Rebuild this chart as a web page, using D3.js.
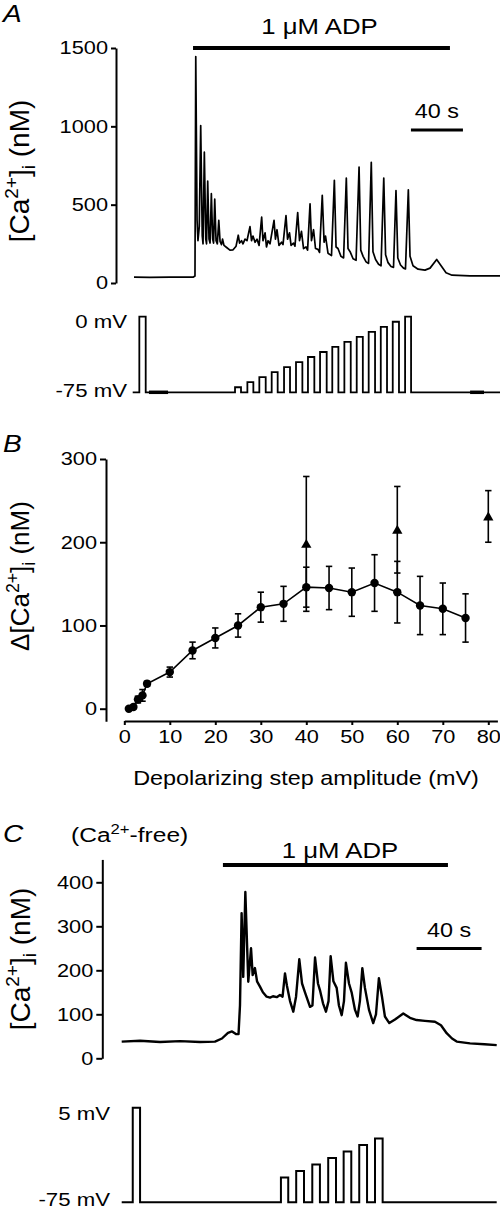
<!DOCTYPE html>
<html><head><meta charset="utf-8">
<script src="https://cdn.jsdelivr.net/npm/d3@7"></script>
<style>
body{margin:0;background:#fff}
svg{display:block}
text{font-family:"Liberation Sans",Arial,Helvetica,sans-serif;fill:#000}
</style>
</head><body>
<svg id="fig" width="500" height="1212"></svg>
<script>
// ---------------- DATA ----------------
// Panel A: [Ca2+]i trace (time in s, value in nM)
const timeA = [0,12.3,27.7,45.4,46.9,47.5,48.5,49.2,50.2,51.3,52.5,53.1,54.1,55.2,55.8,56.7,57.7,58.5,59.5,60.5,61.2,62.1,63.1,64.1,65.2,66.2,67.3,68.1,69.2,71.5,73.8,76.2,78.5,80.2,81.2,82.7,83.8,85.4,86.9,89.2,90.4,91.5,93.1,94.6,96.2,98.2,99.2,100.8,101.9,103.1,104.6,107.7,108.8,110,111.5,113.5,114.6,116.9,118.1,119.6,120.8,122.7,123.8,125.9,127.3,128.8,130.4,132.3,133.5,135.4,136.5,138.1,139.6,141.5,142.7,144.8,146.2,147.3,149.2,151.9,154.1,155.4,156.9,159.2,161.2,163.3,164.6,166.2,168.5,170.8,173.1,174.4,176.2,178.5,180.4,182.5,183.8,185.8,188.1,190,192.1,193.5,195.4,197.7,199.6,201.5,202.9,205,207.3,208.8,211,212.3,214.6,218.5,223.8,227.7,232.8,236.2,240,244.6,258.5,281.5];
const caA = [37,36,38,37,45,1445,400,270,360,1005,300,250,835,280,250,650,280,255,570,280,255,535,270,250,400,265,245,280,240,225,210,212,235,305,255,270,250,280,270,360,270,300,260,280,240,420,270,320,230,270,250,400,280,340,240,260,245,430,280,320,240,255,235,450,270,330,220,230,210,505,270,340,220,215,195,560,260,300,190,175,655,230,220,170,160,670,220,200,155,145,740,210,170,135,125,770,200,150,120,110,670,180,130,105,100,590,160,115,95,90,595,170,110,88,82,95,150,110,65,50,45,45];
const adpA = [45.4, 243];       // 1 µM ADP application (s)
const scaleBarA = [213, 253];   // 40 s

// Panel A: voltage protocol
const stepStartA = [4.1,77.7,87.2,96.4,105.9,115.4,124.6,133.8,143.1,152.5,161.8,171.3,180.5,189.8,199,208.5];
const stepEndA   = [9.0,82.3,91.8,101.3,110.5,120,129.5,138.7,148.2,157.2,166.7,176,185.4,194.6,203.8,213.1];
const stepMvA    = [0,-70,-65,-60,-55,-50,-45,-40,-35,-30,-25,-20,-15,-10,-5,0];
const noiseA = [[11.5,26.2],[258.5,269.2]];
const voltTicksA = [0, -75];

// Panel B
const ampCircle = [1,2,3,4,5,10,15,20,25,30,35,40,45,50,55,60,65,70,75];
const dCaCircle = [0,2,11,16,30,44,70,85,100,122,126,146,145,140,151,140,124,120,109];
const semCircle = [1,2,4,7,3,6,10,12,14,18,21,24,26,29,34,37,35,31,29];
const ampTri = [40,60,80];
const dCaTri = [198,215,231];
const semTri = [81,52,31];
const xTicksB = [0,10,20,30,40,50,60,70,80];
const yTicksB = [0,100,200,300];

// Panel C: [Ca2+]i trace, Ca2+-free
const timeC = [0,11.3,23.6,35.9,48.2,57.4,61.7,65.4,67.9,70.3,71.9,72.8,73.8,74.8,76.1,77.9,79.6,80.6,82,83.3,85.1,86.9,89.2,91.3,93.1,95.4,97.4,99,100.5,101.7,103.6,105.6,107.3,109.3,111,112.8,115.9,117.4,119,120.8,122,123.9,125.7,127.3,128.6,130.3,132.3,133.7,135.4,136.8,138,139.9,141.5,143.6,145.2,146.6,148.1,149.7,152.2,154.8,156.5,158.3,160.2,162,164.7,168.2,173.3,177.4,181.5,186.6,192.8,196.5,200,203.3,206.2,214.4,223.3,230.8];
const caC = [38,40,37,39,37,38,45,58,61,55,55,120,330,185,378,174,250,189,205,175,163,150,140,138,141,139,144,140,193,165,130,106,140,225,170,150,117,120,229,170,155,125,106,130,232,175,160,120,98,130,217,170,150,110,95,130,205,160,110,80,100,182,140,95,80,88,102,92,87,85,83,75,57,45,38,34,32,30];
const adpC = [62.3, 200.8];
const scaleBarC = [181.5, 221.5];
const yTicksA = [0,500,1000,1500];
const yTicksC = [0,100,200,300,400];

// Panel C: voltage protocol
const stepStartC = [6.8,98,107.4,117.3,127.1,136.6,146.2,155.9];
const stepEndC   = [11.3,102.5,112.2,122,131.9,141.3,151,160.6];
const stepMvC    = [5,-54,-48.5,-43,-37.5,-32,-26.5,-21];

// ---------------- DRAWING ----------------
const SX = 1.17;
const svg = d3.select("#fig");

function rich(sel, parts, size) {
  let off = 0;
  parts.forEach(p => {
    const s = sel.append("tspan");
    let target = 0, txt = p;
    if (typeof p === "object") {
      txt = p.t;
      if (p.sup) target = -0.4 * size;
      if (p.sub) target = 0.22 * size;
      s.style("font-size", (0.68 * size) + "px");
    }
    s.attr("dy", target - off);
    off = target;
    s.text(txt);
  });
}
function label(x, y, parts, size, anchor, italic) {
  const t = svg.append("text")
    .attr("transform", `translate(${x},${y}) scale(${SX},1)`)
    .attr("text-anchor", anchor || "start")
    .style("font-size", size + "px");
  if (italic) t.style("font-style", "italic");
  rich(t, Array.isArray(parts) ? parts : [parts], size);
  return t;
}
function ylabel(x, y, parts, size) {
  const t = svg.append("text")
    .attr("transform", `translate(${x},${y}) rotate(-90)`)
    .attr("text-anchor", "middle")
    .style("font-size", size + "px");
  rich(t, parts, size);
}
function styleAxis(g, pad) {
  g.selectAll("path.domain").attr("stroke", "#000").attr("stroke-width", 2);
  g.selectAll(".tick line").attr("stroke", "#000").attr("stroke-width", 2);
  g.selectAll(".tick text").style("font-size", "18.6px")
    .attr("font-family", null)
    .each(function () {
      const x = +this.getAttribute("x") || 0;
      this.setAttribute("x", x / SX);
      this.setAttribute("transform", `scale(${SX},1)`);
    });
  g.attr("font-family", null).attr("font-size", null);
}
function stepPoints(t0, t1, starts, ends, levels, base) {
  const pts = [[t0, base]];
  starts.forEach((s, i) => {
    pts.push([s, base], [s, levels[i]], [ends[i], levels[i]], [ends[i], base]);
  });
  pts.push([t1, base]);
  return pts;
}

// ===== Panel A =====
const xA = d3.scaleLinear().domain([0, 281.5]).range([134, 500]);
const yA = d3.scaleLinear().domain([0, 1500]).range([283, 48]);
const vA = d3.scaleLinear().domain([-75, 0]).range([392.3, 316.7]);

label(3, 22, "A", 24, "start", true);
const gAy = svg.append("g").attr("transform", "translate(116,0)")
  .call(d3.axisLeft(yA).tickValues(yTicksA).tickSize(5).tickSizeOuter(0).tickPadding(3).tickFormat(d3.format("d")));
styleAxis(gAy);
ylabel(29, 171, ["[Ca", {t: "2+", sup: true}, "]", {t: "i", sub: true}, " (nM)"], 28);

svg.append("path").datum(d3.zip(timeA, caA))
  .attr("fill", "none").attr("stroke", "#000").attr("stroke-width", 1.7).attr("stroke-linejoin", "round")
  .attr("d", d3.line().x(d => xA(d[0])).y(d => yA(d[1])));

svg.append("line").attr("x1", xA(adpA[0])).attr("x2", xA(adpA[1])).attr("y1", 48).attr("y2", 48)
  .attr("stroke", "#000").attr("stroke-width", 4);
label((xA(adpA[0]) + xA(adpA[1])) / 2 - 2, 34, ["1 μM ADP"], 22, "middle");
svg.append("line").attr("x1", xA(scaleBarA[0])).attr("x2", xA(scaleBarA[1])).attr("y1", 130).attr("y2", 130)
  .attr("stroke", "#000").attr("stroke-width", 3);
label((xA(scaleBarA[0]) + xA(scaleBarA[1])) / 2, 118, ["40 s"], 20, "middle");

// voltage A
svg.append("path").datum(stepPoints(-1, 281.5, stepStartA, stepEndA, stepMvA, -75))
  .attr("fill", "none").attr("stroke", "#000").attr("stroke-width", 1.8)
  .attr("d", d3.line().x(d => xA(d[0])).y(d => vA(d[1])));
noiseA.forEach(n => {
  svg.append("line").attr("x1", xA(n[0])).attr("x2", xA(n[1])).attr("y1", vA(-75)).attr("y2", vA(-75))
    .attr("stroke", "#000").attr("stroke-width", 3.5);
});
label(127, vA(voltTicksA[0]) + 11, ["0 mV"], 19, "end");
label(127, vA(voltTicksA[1]) + 4.5, ["-75 mV"], 19, "end");

// ===== Panel B =====
const xB = d3.scaleLinear().domain([0, 80]).range([124.3, 488.3]);
const yB = d3.scaleLinear().domain([0, 300]).range([708.7, 459]);
label(3, 452, "B", 24, "start", true);

const xBaxis = d3.scaleLinear().domain([0, 82]).range([xB(0), xB(82)]);
const gBx = svg.append("g").attr("transform", "translate(0,721)")
  .call(d3.axisBottom(xBaxis).tickValues(xTicksB).tickSize(4).tickSizeOuter(0).tickPadding(5));
styleAxis(gBx);
const yBaxis = d3.scaleLinear().domain([-15, 300]).range([yB(-15), yB(300)]);
const gBy = svg.append("g").attr("transform", "translate(106,0)")
  .call(d3.axisLeft(yBaxis).tickValues(yTicksB).tickSize(6).tickSizeOuter(0).tickPadding(3));
styleAxis(gBy);
ylabel(29, 576, ["Δ[Ca", {t: "2+", sup: true}, "]", {t: "i", sub: true}, " (nM)"], 26);
label(306, 785, ["Depolarizing step amplitude (mV)"], 20, "middle");

const errG = svg.append("g").attr("stroke", "#000").attr("stroke-width", 1.6);
function errBars(xs, ys, es) {
  xs.forEach((x, i) => {
    const cx = xB(x), y1 = yB(ys[i] - es[i]), y2 = yB(ys[i] + es[i]);
    errG.append("line").attr("x1", cx).attr("x2", cx).attr("y1", y1).attr("y2", y2);
    [y1, y2].forEach(y => errG.append("line").attr("x1", cx - 3.2).attr("x2", cx + 3.2).attr("y1", y).attr("y2", y));
  });
}
errBars(ampCircle, dCaCircle, semCircle);
errBars(ampTri, dCaTri, semTri);

svg.append("path").datum(d3.zip(ampCircle, dCaCircle))
  .attr("fill", "none").attr("stroke", "#000").attr("stroke-width", 1.6)
  .attr("d", d3.line().x(d => xB(d[0])).y(d => yB(d[1])));
svg.append("g").selectAll("circle").data(d3.zip(ampCircle, dCaCircle)).join("circle")
  .attr("cx", d => xB(d[0])).attr("cy", d => yB(d[1])).attr("r", 4.2).attr("fill", "#000");
svg.append("g").selectAll("path").data(d3.zip(ampTri, dCaTri)).join("path")
  .attr("transform", d => `translate(${xB(d[0])},${yB(d[1]) + 1})`)
  .attr("d", d3.symbol(d3.symbolTriangle, 46)).attr("fill", "#000");

// ===== Panel C =====
const xC = d3.scaleLinear().domain([0, 230.8]).range([121.7, 496.7]);
const yC = d3.scaleLinear().domain([0, 400]).range([1058.3, 882.3]);
const vC = d3.scaleLinear().domain([-75, 5]).range([1202.3, 1107.7]);

label(3, 842, "C", 24, "start", true);
label(71, 842, ["(Ca", {t: "2+", sup: true}, "-free)"], 21, "start");

const yCaxis = d3.scaleLinear().domain([0, 452]).range([yC(0), yC(452)]);
const gCy = svg.append("g").attr("transform", "translate(102.3,0)")
  .call(d3.axisLeft(yCaxis).tickValues(yTicksC).tickSize(6).tickSizeOuter(0).tickPadding(3));
styleAxis(gCy);
ylabel(30, 959, ["[Ca", {t: "2+", sup: true}, "]", {t: "i", sub: true}, " (nM)"], 28);

svg.append("path").datum(d3.zip(timeC, caC))
  .attr("fill", "none").attr("stroke", "#000").attr("stroke-width", 2.4).attr("stroke-linejoin", "round")
  .attr("d", d3.line().x(d => xC(d[0])).y(d => yC(d[1])));

svg.append("line").attr("x1", xC(adpC[0])).attr("x2", xC(adpC[1])).attr("y1", 865).attr("y2", 865)
  .attr("stroke", "#000").attr("stroke-width", 4);
label(340, 858, ["1 μM ADP"], 22, "middle");
svg.append("line").attr("x1", xC(scaleBarC[0])).attr("x2", xC(scaleBarC[1])).attr("y1", 948.5).attr("y2", 948.5)
  .attr("stroke", "#000").attr("stroke-width", 3);
label((xC(scaleBarC[0]) + xC(scaleBarC[1])) / 2, 937, ["40 s"], 20, "middle");

svg.append("path").datum(stepPoints(0, 230.8, stepStartC, stepEndC, stepMvC, -75))
  .attr("fill", "none").attr("stroke", "#000").attr("stroke-width", 2)
  .attr("d", d3.line().x(d => xC(d[0])).y(d => vC(d[1])));
label(110, vC(5) + 12, ["5 mV"], 19, "end");
label(110, vC(-75) + 4, ["-75 mV"], 19, "end");
</script>
</body></html>
